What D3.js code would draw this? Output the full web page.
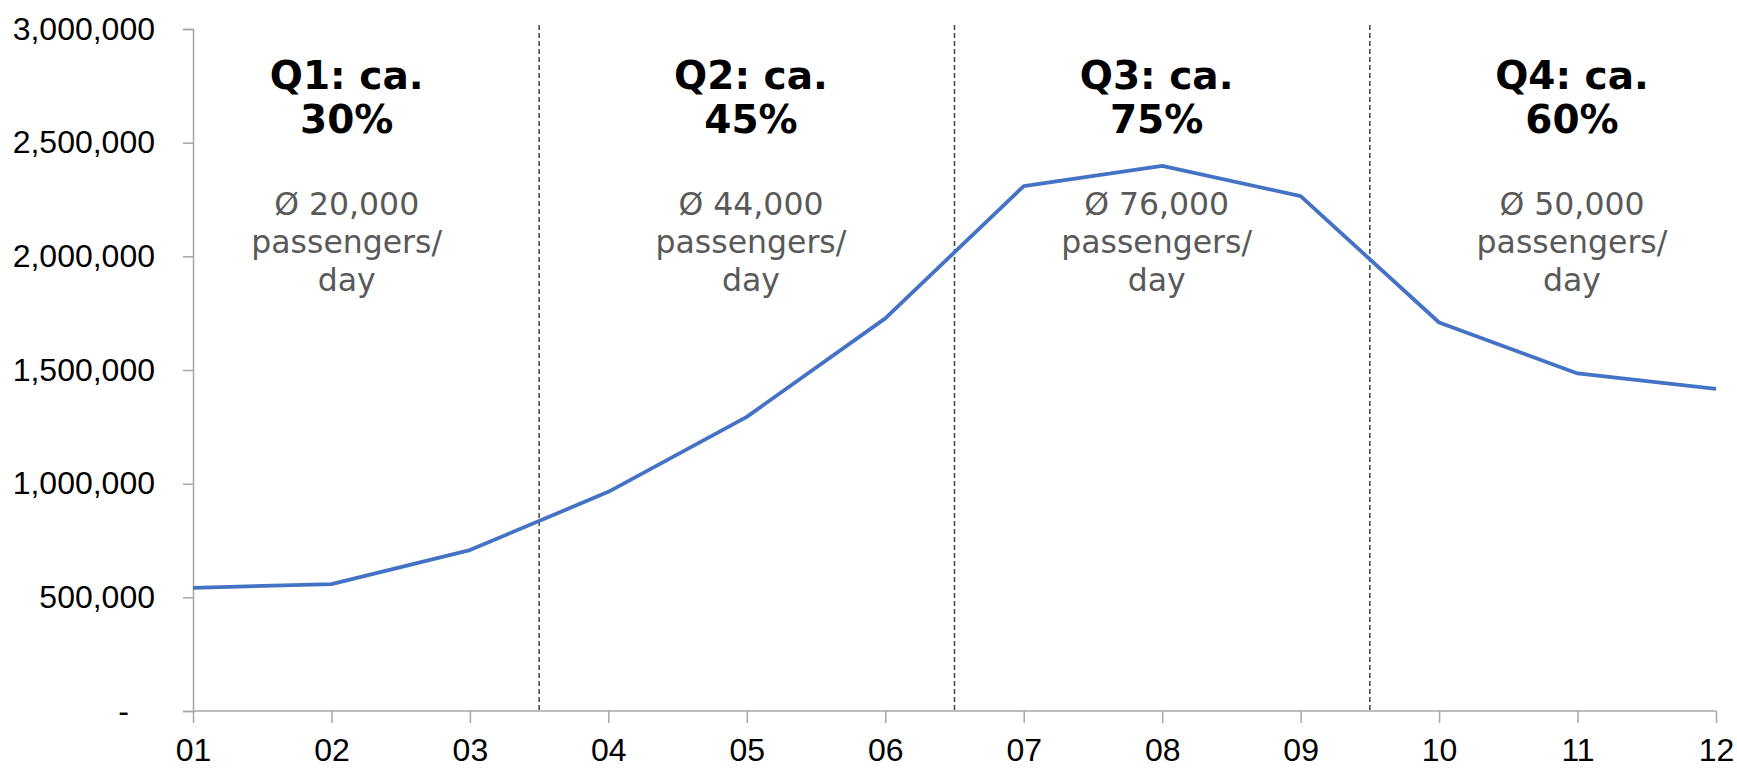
<!DOCTYPE html>
<html>
<head>
<meta charset="utf-8">
<script src="https://d3js.org/d3.v7.min.js"></script>
<style>
  body { margin: 0; background: #fff; }
  .axis path, .axis line { stroke: #a6a6a6; stroke-width: 1.5px; }
  .axis text { font-family: "Liberation Sans", Arial, sans-serif; font-size: 32px; fill: #000; }
  .qhead { font-family: "DejaVu Sans", Verdana, sans-serif; font-weight: bold; font-size: 39px; fill: #000; }
  .qsub { font-family: "DejaVu Sans", Verdana, sans-serif; font-size: 31.5px; fill: #595959; }
</style>
</head>
<body>
<div id="chart"></div>
<script>
var months = ["01", "02", "03", "04", "05", "06", "07", "08", "09", "10", "11", "12"];
var passengers = [542000, 558000, 708000, 964000, 1294000, 1727000, 2309000, 2398000, 2265000, 1709000, 1485000, 1417000];
var yTicks = [0, 500000, 1000000, 1500000, 2000000, 2500000, 3000000];

// quarter boxes: heading lines, sub lines, centre (in month index)
var quarterHead = [["Q1: ca.", "30%"], ["Q2: ca.", "45%"], ["Q3: ca.", "75%"], ["Q4: ca.", "60%"]];
var quarterSub = [["\u00d8 20,000", "passengers/", "day"],
                  ["\u00d8 44,000", "passengers/", "day"],
                  ["\u00d8 76,000", "passengers/", "day"],
                  ["\u00d8 50,000", "passengers/", "day"]];
var quarterPos = [1.11, 4.03, 6.96, 9.96];
var dividers = [2.5, 5.5, 8.5];

var w = 1737, h = 772;
var mLeft = 193, mRight = 1716, mTop = 29, mBottom = 711;

var svg = d3.select("#chart").append("svg")
  .attr("width", w)
  .attr("height", h);

var x = d3.scaleLinear().domain([0, 11]).range([mLeft, mRight]);
var y = d3.scaleLinear().domain([0, 3000000]).range([mBottom, mTop]);

// dashed quarter dividers
svg.selectAll(".divider")
  .data(dividers)
  .enter()
  .append("line")
  .attr("class", "divider")
  .attr("x1", d => x(d)).attr("x2", d => x(d))
  .attr("y1", y(3000000) - 4).attr("y2", mBottom)
  .attr("stroke", "#404040")
  .attr("stroke-width", 1.5)
  .attr("stroke-dasharray", "5,3");

// y axis
var yAxis = d3.axisLeft(y)
  .tickValues(yTicks)
  .tickSize(10)
  .tickPadding(28)
  .tickFormat(d => d === 0 ? "-" : d3.format(",")(d));

var gy = svg.append("g")
  .attr("class", "axis")
  .attr("transform", "translate(" + mLeft + ",0)")
  .call(yAxis);
gy.selectAll(".tick text").filter(d => d === 0).attr("dx", -26);

// x axis
var xAxis = d3.axisBottom(x)
  .tickValues(d3.range(months.length))
  .tickSize(12)
  .tickPadding(15)
  .tickFormat(i => months[i]);

svg.append("g")
  .attr("class", "axis")
  .attr("transform", "translate(0," + mBottom + ")")
  .call(xAxis)
  .call(g => g.select(".domain").attr("d", "M" + mLeft + ",0H" + mRight));

// line
var line = d3.line()
  .x((d, i) => x(i))
  .y(d => y(d));

svg.append("path")
  .datum(passengers)
  .attr("fill", "none")
  .attr("stroke", "#4472c4")
  .attr("stroke-width", 3.8)
  .attr("stroke-linejoin", "round")
  .attr("d", line);

// quarter annotations
var q = svg.selectAll(".quarter")
  .data(quarterHead)
  .enter()
  .append("g")
  .attr("class", "quarter");

q.append("text")
  .attr("class", "qhead")
  .attr("text-anchor", "middle")
  .selectAll("tspan")
  .data((d, i) => d.map(t => ({ t: t, i: i })))
  .enter()
  .append("tspan")
  .attr("x", d => x(quarterPos[d.i]))
  .attr("y", (d, j) => 89 + j * 44)
  .text(d => d.t);

q.append("text")
  .attr("class", "qsub")
  .attr("text-anchor", "middle")
  .selectAll("tspan")
  .data((d, i) => quarterSub[i].map(t => ({ t: t, i: i })))
  .enter()
  .append("tspan")
  .attr("x", d => x(quarterPos[d.i]))
  .attr("y", (d, j) => 215 + j * 38)
  .text(d => d.t);
</script>
</body>
</html>
